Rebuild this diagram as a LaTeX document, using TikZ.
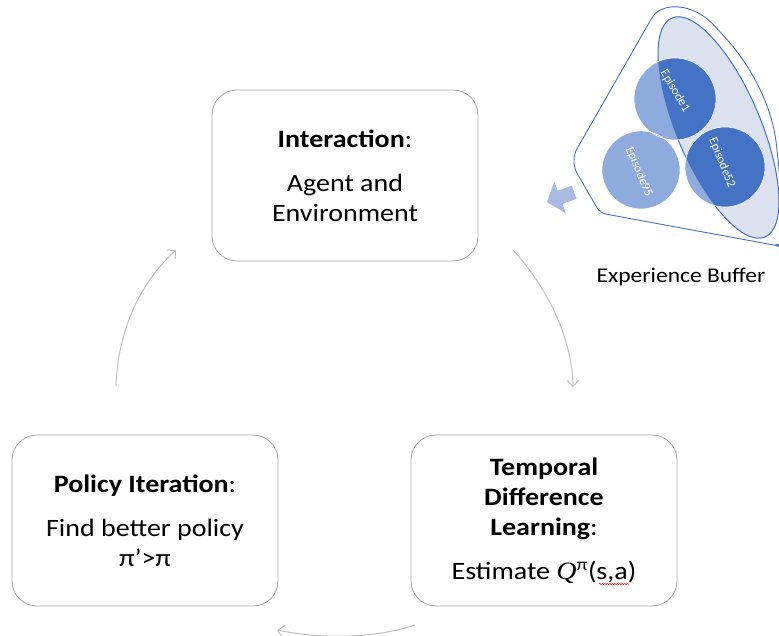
\documentclass[tikz,border=0pt]{standalone}
\usepackage{fontspec}
\setmainfont{Carlito}
\newfontfamily\boxfont[FakeStretch=1.12]{Carlito}
\newfontfamily\qserif[FakeStretch=1.12]{Liberation Serif}
\usetikzlibrary{arrows.meta,decorations.pathmorphing}
\definecolor{boxgray}{HTML}{A6A6A6}
\definecolor{arrowgray}{HTML}{BFBFBF}
\definecolor{bufblue}{HTML}{4472C4}
\definecolor{eplight}{HTML}{8FAADC}
\definecolor{ellfill}{HTML}{DCE1F0}
\definecolor{blockblue}{HTML}{A9B9E0}
\tikzset{
  stagebox/.style={draw=boxgray, line width=0.8pt, rounded corners=25pt,
    minimum width=266pt, minimum height=171pt, align=center,
    font=\boxfont\fontsize{25}{30}\selectfont, inner sep=0pt},
  cycle arrow/.style={draw=arrowgray, line width=1pt,
    -{Straight Barb[length=6pt, width=12pt]}},
  eplabel/.style={text=white, font=\fontsize{12.5}{13}\selectfont, inner sep=0pt},
  bufferellipse/.style={rotate around={-67:(718.5,127.5)}},
}
\begin{document}
\begin{tikzpicture}[x=1pt, y=-1pt]
\useasboundingbox (0,0) rectangle (779,636);

% the three stages of the loop
\node[stagebox] (inter) at (345,175.5)
  {\textbf{Interaction}:\\[14pt] Agent and\\ Environment};
\node[stagebox] (td) at (544,520.5)
  {\textbf{Temporal}\\ \textbf{Difference}\\ \textbf{Learning}:\\[14pt]
   Estimate {\qserif\itshape Q}\textsuperscript{π}(s,a)};
\node[stagebox] (pi) at (145,520.5)
  {\textbf{Policy Iteration}:\\[14pt] Find better policy\\ π’>π};

% spell-check underline beneath (s,a)
\draw[red!85!black, line width=0.5pt, decorate,
  decoration={snake, amplitude=0.7pt, segment length=2.5pt}] (599,584) -- (629,584);

% loop arrows
\coordinate (a1s) at (513,250);
\coordinate (a1e) at (573,387);
\coordinate (a2s) at (415,625);
\coordinate (a2e) at (277,630);
\coordinate (a3s) at (116,386);
\coordinate (a3e) at (176,250);
\draw[cycle arrow] (a1s) .. controls (545,285) and (572,335) .. (a1e);
\draw[cycle arrow] (a2s) .. controls (370,640) and (315,638) .. (a2e);
\draw[cycle arrow] (a3s) .. controls (118,330) and (140,283) .. (a3e);

% experience buffer funnel
\draw[bufblue, line width=0.9pt, fill=white, rounded corners=6pt]
  (779,246) -- (600,213) -- (574,168) -- (574,154) -- (650,21)
  .. controls (661,4) and (692,0) .. (720,32)
  .. controls (750,64) and (772,105) .. (777,150)
  .. controls (781,185) and (782,220) .. (781,247) -- cycle;
\draw[bufblue, line width=1pt, fill=ellfill, bufferellipse]
  (718.5,127.5) ellipse [x radius=119, y radius=42];

% episodes: light outside the ellipse, dark inside it
\foreach \c/\r in {{(675,99)}/41, {(725,167)}/40, {(641,170)}/39}
  \fill[eplight] \c circle[radius=\r];
\begin{scope}
  \clip[bufferellipse] (718.5,127.5) ellipse [x radius=119, y radius=42];
  \foreach \c/\r in {{(675,99)}/41, {(725,167)}/40}
    \fill[bufblue] \c circle[radius=\r];
\end{scope}
\foreach \c/\r in {{(675,99)}/41, {(725,167)}/40, {(641,170)}/39}
  \draw[white, line width=0.6pt] \c circle[radius=\r];
\node[eplabel, rotate=-59] (ep1) at (675,91) {Episode1};
\node[eplabel, rotate=-68] (ep52) at (722,163) {Episode52};
\node[eplabel, rotate=-67] (ep95) at (639,172) {Episode95};

% block arrow leaving the buffer
\begin{scope}[shift={(561,197)}, rotate=20]
  \fill[blockblue] (-15,0) -- (-1,17) -- (-1,7) -- (14,7) -- (14,-7) -- (-1,-7) -- (-1,-17) -- cycle;
\end{scope}

\node[font=\boxfont\fontsize{21}{24}\selectfont, inner sep=0pt] (buflabel) at (681,277) {Experience Buffer};
\end{tikzpicture}
\end{document}
